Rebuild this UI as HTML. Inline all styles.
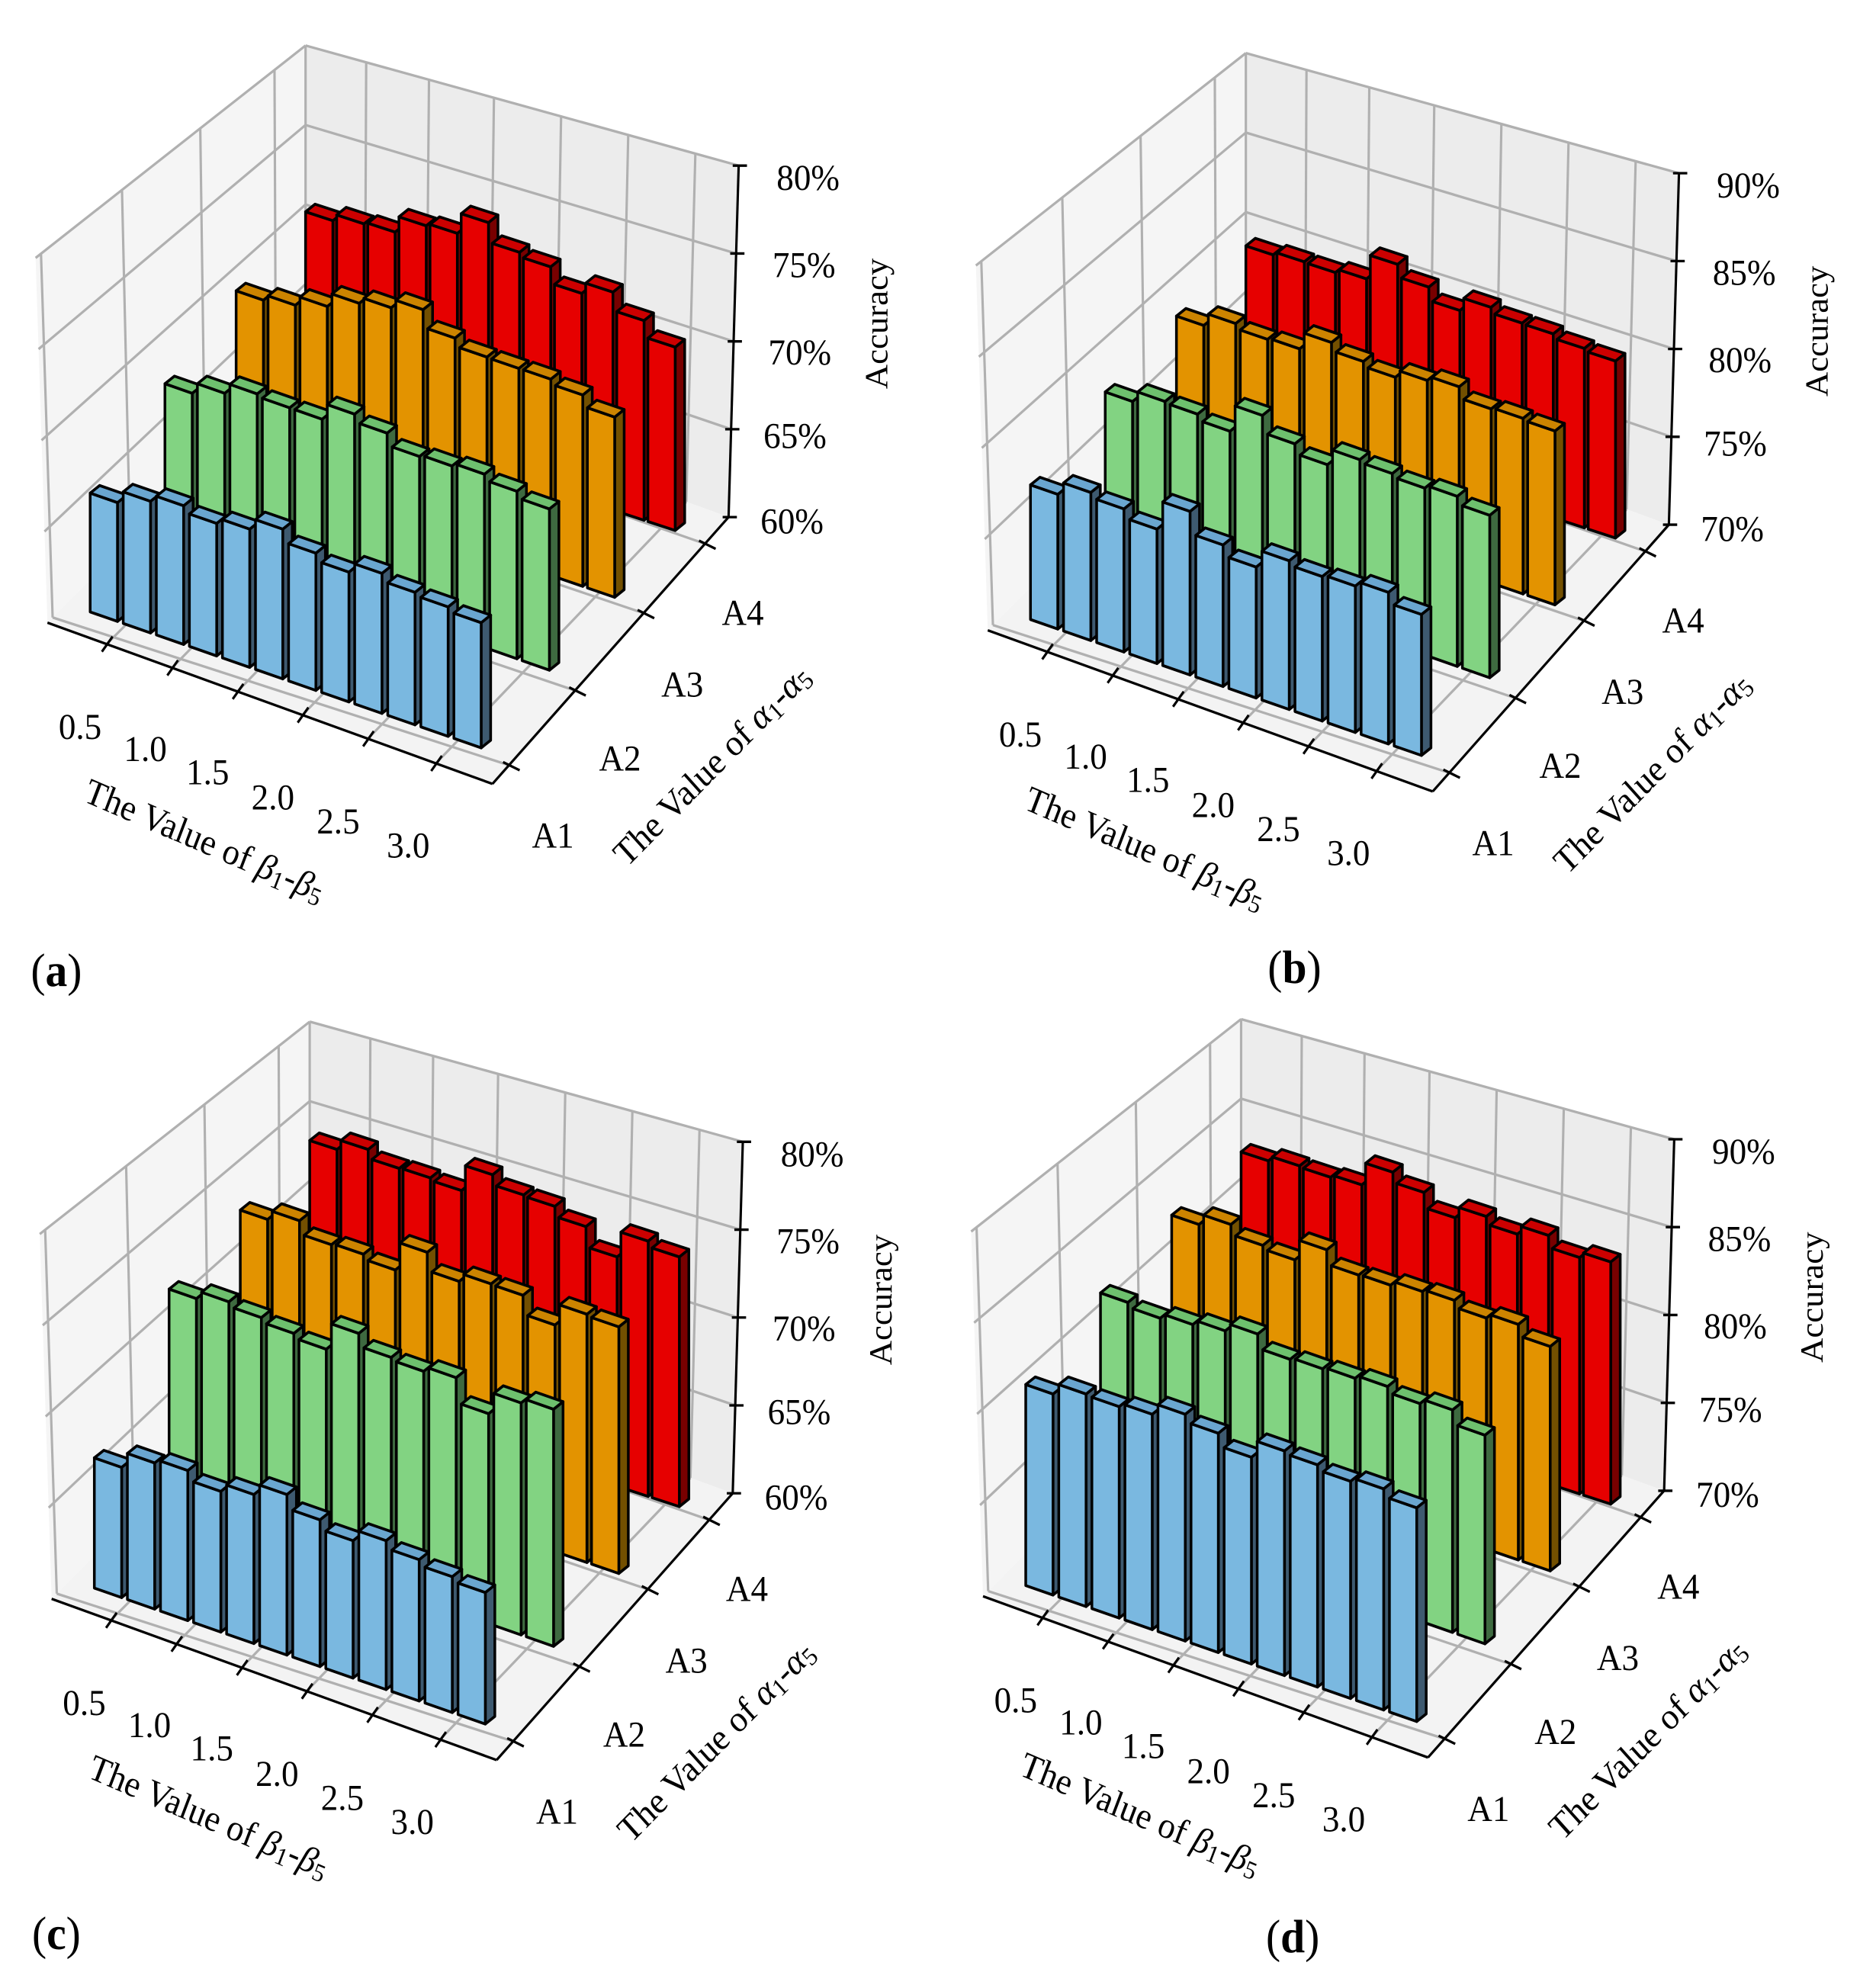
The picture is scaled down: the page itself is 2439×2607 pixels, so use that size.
<!DOCTYPE html>
<html><head><meta charset="utf-8">
<style>
html,body{margin:0;padding:0;background:#fff;}
svg{display:block;}
text{font-family:"Liberation Serif",serif;fill:#000;}
</style></head>
<body>
<svg id="s" xmlns="http://www.w3.org/2000/svg" width="2439" height="2607" viewBox="0 0 2439 2607"></svg>
<script>
const NS="http://www.w3.org/2000/svg";
const svg=document.getElementById('s');
const KX=0.778,KY=0.829;
function el(p,tag,attrs,txt){const e=document.createElementNS(NS,tag);for(const k in attrs)e.setAttribute(k,attrs[k]);if(txt!==undefined)e.textContent=txt;p.appendChild(e);return e;}
function L(a,b,t){return [a[0]+(b[0]-a[0])*t,a[1]+(b[1]-a[1])*t];}
function pts(a){return a.map(p=>p[0].toFixed(1)+','+p[1].toFixed(1)).join(' ');}
const cols={b:['#7ab8e0','#3e5a70','#6aa6d0'],g:['#82d382','#3e6a40','#6ec06e'],o:['#e39300','#735000','#cc8400'],r:['#e60000','#780000','#cc0000']};
const rows=[
 [515,1092,648,825,'r'],[398,990,740,930,'o'],[278,880,847,1045,'g'],[152,765,968,1168,'b']];
const panels=[
 {ox:0,oy:0,sx:0,sy:0,z:['80%','75%','70%','65%','60%'],lab:'a',lp:[95,1535],
  tops:{b:[770,768,775,803,812,812,850,880,882,912,935,960],g:[597,597,598,620,638,630,660,697,712,725,752,780],o:[450,458,460,455,462,465,510,540,558,575,600,635],r:[325,330,343,333,345,328,375,398,440,438,483,525]}},
 {ox:1219,oy:0,sx:18,sy:12,z:['90%','85%','80%','75%','70%'],lab:'b',lp:[615,1530],
  tops:{b:[745,742,768,800,772,825,860,850,875,890,900,935],g:[598,598,618,645,620,665,698,690,712,735,748,778],o:[478,475,500,515,505,535,560,565,575,610,625,645],r:[367,378,395,405,382,418,455,450,475,492,515,535]}},
 {ox:0,oy:1300,sx:7,sy:-24,z:['80%','75%','70%','65%','60%'],lab:'c',lp:[95,1490],
  tops:{b:[752,745,757,790,795,795,835,868,868,898,925,950],g:[485,490,515,540,565,540,578,600,610,667,650,660],o:[360,362,400,415,440,412,458,462,480,527,510,530],r:[250,250,280,295,315,290,322,340,372,420,395,420]}},
 {ox:1219,oy:1300,sx:10,sy:-28,z:['90%','85%','80%','75%','70%'],lab:'d',lp:[612,1495],
  tops:{b:[640,640,660,672,672,702,740,730,752,778,790,820],g:[495,520,530,540,545,585,600,615,628,655,665,705],o:[372,372,405,428,412,452,468,478,492,520,530,565],r:[272,280,298,310,290,322,362,360,388,390,425,432]}}
];
const FS=58;
for(const P of panels){
 const G=el(svg,'g',{transform:`translate(${P.ox},${P.oy}) scale(${KX},${KY})`});
 const g=el(G,'g',{transform:`translate(${P.sx},${P.sy})`});
 const lt=[60,408],lb=[80,985],bt=[515,72],bb=[515,575],rt=[1245,262],rb=[1228,818],fc=[830,1240];
 el(g,'polygon',{points:pts([lt,bt,bb,lb]),fill:'#f5f5f5'});
 el(g,'polygon',{points:pts([bt,rt,rb,bb]),fill:'#ececec'});
 el(g,'polygon',{points:pts([lb,bb,rb,fc]),fill:'#f3f3f3'});
 const gs={stroke:'#b0b0b0','stroke-width':4,fill:'none'};
 function line(a,b,st){el(g,'line',Object.assign({x1:a[0],y1:a[1],x2:b[0],y2:b[1]},st));}
 for(const f of [0,0.25,0.5,0.75]){line(L(lt,lb,f),L(bt,bb,f),gs);line(L(bt,bb,f),L(rt,rb,f),gs);}
 const lwf=[0.02,0.32,0.61,0.885];
 for(const f of lwf){line(L(lt,bt,f),L(lb,bb,f),gs);}
 const rwf=[0.14,0.285,0.435,0.59,0.745,0.9];
 for(const f of rwf){line(L(bt,rt,f),L(bb,rb,f),gs);}
 line(bt,bb,gs);
 const frf=[0.133,0.28,0.427,0.573,0.72,0.873];
 for(let i=0;i<6;i++){line(L(lb,fc,frf[i]),L(bb,rb,rwf[i]),gs);}
 const af=[0.07,0.35,0.64,0.9];
 for(let i=0;i<4;i++){line(L(fc,rb,af[i]),L(lb,bb,lwf[i]),gs);}
 const w=46,dx=16,dy=-12;
 for(const R of rows){
  const [x0,x11,yb0,yb11,c]=R;const s=(yb11-yb0)/(x11-x0);const C=cols[c];const tops=P.tops[c];
  for(let i=0;i<12;i++){
   const t=i/11,xl=x0+(x11-x0)*t,yb=yb0+(yb11-yb0)*t,yt=tops[i]+10;
   const st={stroke:'#000','stroke-width':4.5,'stroke-linejoin':'round'};
   el(g,'polygon',Object.assign({points:pts([[xl+w,yt+w*s],[xl+w+dx,yt+w*s+dy],[xl+w+dx,yb+w*s+dy],[xl+w,yb+w*s]]),fill:C[1]},st));
   el(g,'polygon',Object.assign({points:pts([[xl,yt],[xl+w,yt+w*s],[xl+w,yb+w*s],[xl,yb]]),fill:C[0]},st));
   el(g,'polygon',Object.assign({points:pts([[xl,yt],[xl+w,yt+w*s],[xl+w+dx,yt+w*s+dy],[xl+dx,yt+dy]]),fill:C[2]},st));
  }
 }
 const ax={stroke:'#000','stroke-width':4};
 line(lb,fc,ax);line(fc,rb,ax);line(rt,rb,ax);
 for(const f of frf){const p=L(lb,fc,f);line([p[0]+10,p[1]-12],[p[0]-8,p[1]+12],ax);}
 for(const f of af){const p=L(fc,rb,f);line([p[0]-10,p[1]-5],[p[0]+18,p[1]+8],ax);}
 for(const f of [0,0.25,0.5,0.75,1]){const p=L(rt,rb,f);line([p[0]-10,p[1]],[p[0]+14,p[1]],ax);}
 const tb={'font-size':FS,'text-anchor':'middle','dominant-baseline':'central'};
 const bl=[[135,1150],[245,1185],[350,1222],[460,1262],[570,1300],[688,1338]];
 ['0.5','1.0','1.5','2.0','2.5','3.0'].forEach((t,i)=>el(g,'text',Object.assign({x:bl[i][0],y:bl[i][1]},tb),t));
 const al=[[932,1322],[1045,1200],[1150,1083],[1252,970]];
 ['A1','A2','A3','A4'].forEach((t,i)=>el(g,'text',Object.assign({x:al[i][0],y:al[i][1]},tb),t));
 const zl=[[1362,282],[1355,420],[1348,558],[1340,690],[1335,825]];
 P.z.forEach((t,i)=>el(g,'text',Object.assign({x:zl[i][0],y:zl[i][1]},tb),t));
 el(g,'text',{x:1478,y:512,'font-size':54,'text-anchor':'middle','dominant-baseline':'central',transform:'rotate(-90 1478 512)'},'Accuracy');
 const t1=el(g,'text',{x:345,y:1330,'font-size':FS,'text-anchor':'middle','dominant-baseline':'central',transform:'rotate(22 345 1330)'});
 t1.innerHTML='The Value of <tspan font-style="italic">β</tspan><tspan font-size="40" dy="12">1</tspan><tspan dy="-12">-</tspan><tspan font-style="italic">β</tspan><tspan font-size="40" dy="12">5</tspan>';
 const t2=el(g,'text',{x:1200,y:1210,'font-size':FS,'text-anchor':'middle','dominant-baseline':'central',transform:'rotate(-43.7 1200 1210)'});
 t2.innerHTML='The Value of <tspan font-style="italic">α</tspan><tspan font-size="40" dy="12">1</tspan><tspan dy="-12">-</tspan><tspan font-style="italic">α</tspan><tspan font-size="40" dy="12">5</tspan>';
 const pl=el(G,'text',{x:P.lp[0],y:P.lp[1],'font-size':74,'text-anchor':'middle','dominant-baseline':'central'});
 pl.innerHTML='(<tspan font-weight="bold">'+P.lab+'</tspan>)';
}
</script>
</body></html>
